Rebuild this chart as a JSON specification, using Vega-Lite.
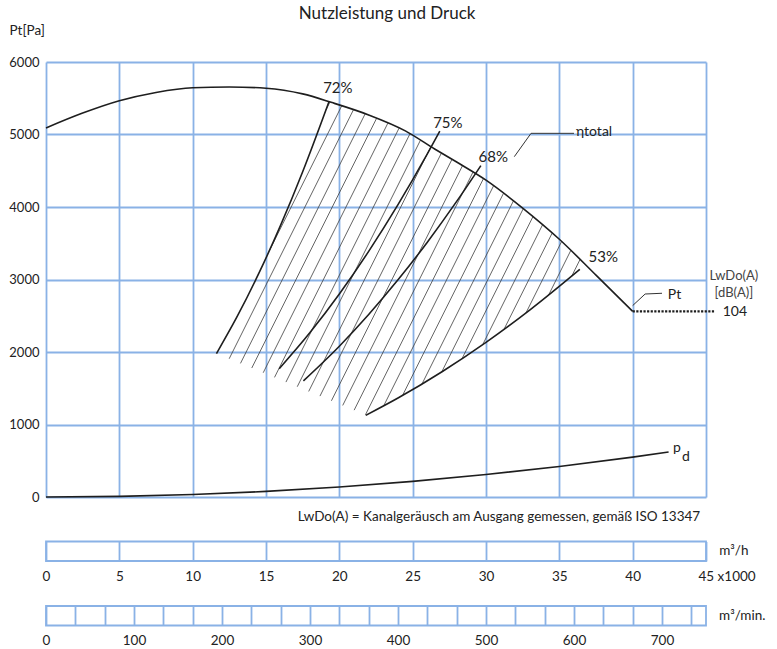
{
  "$schema": "https://vega.github.io/schema/vega-lite/v6.json",
  "background": "white",
  "padding": {"left": 8, "top": 5, "right": 5, "bottom": 5},
  "bounds": "flush",
  "spacing": 44.5,
  "title": {"text": "Nutzleistung und Druck", "fontSize": 17, "fontWeight": "normal", "font": "Lato", "color": "#222", "anchor": "middle", "offset": 0},
  "config": {
    "font": "Lato",
    "view": {"stroke": null},
    "axis": {"gridColor": "#8ab2e6", "gridWidth": 1.8, "gridOpacity": 1, "labelFont": "Lato", "labelColor": "#222", "labelFontSize": 13, "ticks": false, "domain": false, "titleFont": "Lato", "titleColor": "#222", "titleFontWeight": "normal"},
    "text": {"font": "Lato", "color": "#222"}
  },
  "datasets": {
    "hatch": [
      {"j": -2, "Q1": 19.09, "p1": 5339, "Q2": 19.36, "p2": 5448},
      {"j": -1, "Q1": 15.22, "p1": 3394, "Q2": 20.16, "p2": 5395},
      {"j": 0, "Q1": 12.49, "p1": 1907, "Q2": 20.96, "p2": 5340},
      {"j": 1, "Q1": 13.26, "p1": 1843, "Q2": 21.76, "p2": 5285},
      {"j": 2, "Q1": 14.03, "p1": 1779, "Q2": 22.54, "p2": 5223},
      {"j": 3, "Q1": 14.81, "p1": 1714, "Q2": 23.31, "p2": 5157},
      {"j": 4, "Q1": 15.58, "p1": 1650, "Q2": 24.07, "p2": 5087},
      {"j": 5, "Q1": 16.36, "p1": 1585, "Q2": 24.82, "p2": 5011},
      {"j": 6, "Q1": 17.13, "p1": 1521, "Q2": 25.53, "p2": 4921},
      {"j": 7, "Q1": 17.91, "p1": 1456, "Q2": 26.24, "p2": 4831},
      {"j": 8, "Q1": 18.68, "p1": 1392, "Q2": 26.96, "p2": 4744},
      {"j": 9, "Q1": 19.46, "p1": 1327, "Q2": 27.68, "p2": 4657},
      {"j": 10, "Q1": 20.23, "p1": 1263, "Q2": 28.40, "p2": 4571},
      {"j": 11, "Q1": 21.01, "p1": 1198, "Q2": 29.11, "p2": 4480},
      {"j": 12, "Q1": 21.78, "p1": 1134, "Q2": 29.83, "p2": 4393},
      {"j": 13, "Q1": 23.02, "p1": 1256, "Q2": 30.51, "p2": 4290},
      {"j": 14, "Q1": 24.31, "p1": 1401, "Q2": 31.19, "p2": 4188},
      {"j": 15, "Q1": 25.63, "p1": 1557, "Q2": 31.87, "p2": 4084},
      {"j": 16, "Q1": 26.98, "p1": 1725, "Q2": 32.54, "p2": 3977},
      {"j": 17, "Q1": 28.36, "p1": 1906, "Q2": 33.20, "p2": 3866},
      {"j": 18, "Q1": 29.77, "p1": 2100, "Q2": 33.85, "p2": 3752},
      {"j": 19, "Q1": 31.22, "p1": 2310, "Q2": 34.51, "p2": 3640},
      {"j": 20, "Q1": 32.72, "p1": 2537, "Q2": 35.16, "p2": 3526},
      {"j": 21, "Q1": 34.26, "p1": 2782, "Q2": 35.78, "p2": 3400},
      {"j": 22, "Q1": 35.84, "p1": 3044, "Q2": 36.41, "p2": 3275}
    ],
    "curves": [
      {"s": "pt", "Q": 0, "p": 5090}, {"s": "pt", "Q": 2.5, "p": 5295}, {"s": "pt", "Q": 5, "p": 5465},
      {"s": "pt", "Q": 7.5, "p": 5580}, {"s": "pt", "Q": 10, "p": 5645}, {"s": "pt", "Q": 12.5, "p": 5655},
      {"s": "pt", "Q": 15, "p": 5638}, {"s": "pt", "Q": 17.5, "p": 5560}, {"s": "pt", "Q": 19.5, "p": 5440},
      {"s": "pt", "Q": 22, "p": 5270}, {"s": "pt", "Q": 24.5, "p": 5050}, {"s": "pt", "Q": 26.5, "p": 4800},
      {"s": "pt", "Q": 28, "p": 4620}, {"s": "pt", "Q": 30, "p": 4370}, {"s": "pt", "Q": 32.5, "p": 3985},
      {"s": "pt", "Q": 35, "p": 3555}, {"s": "pt", "Q": 37.5, "p": 3060}, {"s": "pt", "Q": 40, "p": 2560},
      {"s": "pd", "Q": 0, "p": 0}, {"s": "pd", "Q": 5, "p": 9}, {"s": "pd", "Q": 10, "p": 34},
      {"s": "pd", "Q": 15, "p": 77}, {"s": "pd", "Q": 20, "p": 138}, {"s": "pd", "Q": 25, "p": 215},
      {"s": "pd", "Q": 30, "p": 310}, {"s": "pd", "Q": 35, "p": 421}, {"s": "pd", "Q": 40, "p": 550},
      {"s": "pd", "Q": 42.45, "p": 620},
      {"s": "e72", "Q": 11.62, "p": 1978}, {"s": "e72", "Q": 13, "p": 2476}, {"s": "e72", "Q": 14.5, "p": 3080},
      {"s": "e72", "Q": 16, "p": 3750}, {"s": "e72", "Q": 17.5, "p": 4487}, {"s": "e72", "Q": 19.3, "p": 5457},
      {"s": "e75", "Q": 15.9, "p": 1770}, {"s": "e75", "Q": 18, "p": 2268}, {"s": "e75", "Q": 20, "p": 2800},
      {"s": "e75", "Q": 22, "p": 3388}, {"s": "e75", "Q": 24, "p": 4032}, {"s": "e75", "Q": 26, "p": 4732},
      {"s": "e75", "Q": 26.85, "p": 5046},
      {"s": "e68", "Q": 17.55, "p": 1602}, {"s": "e68", "Q": 20, "p": 2080}, {"s": "e68", "Q": 22, "p": 2517},
      {"s": "e68", "Q": 24, "p": 2995}, {"s": "e68", "Q": 26, "p": 3515}, {"s": "e68", "Q": 28, "p": 4077},
      {"s": "e68", "Q": 29.65, "p": 4571},
      {"s": "e53", "Q": 21.8, "p": 1126}, {"s": "e53", "Q": 24, "p": 1365}, {"s": "e53", "Q": 27, "p": 1728},
      {"s": "e53", "Q": 30, "p": 2133}, {"s": "e53", "Q": 33, "p": 2581}, {"s": "e53", "Q": 36.4, "p": 3140}
    ],
    "noise": [{"Q": 40, "p": 2560}, {"Q": 45.55, "p": 2560}],
    "leaders": [
      {"s": "pt", "Q": 40.0, "p": 2640}, {"s": "pt", "Q": 40.85, "p": 2800}, {"s": "pt", "Q": 42.0, "p": 2810},
      {"s": "eta", "Q": 31.93, "p": 4694}, {"s": "eta", "Q": 33.07, "p": 5016}, {"s": "eta", "Q": 36.0, "p": 5016}
    ],
    "pctLabels": [
      {"t": "72%", "Q": 19.9, "p": 5641},
      {"t": "75%", "Q": 27.4, "p": 5165},
      {"t": "68%", "Q": 30.5, "p": 4690},
      {"t": "53%", "Q": 38.0, "p": 3314}
    ],
    "sideLabels": [
      {"t": "LwDo(A)", "Q": 46.9, "p": 3048},
      {"t": "[dB(A)]", "Q": 46.9, "p": 2810}
    ],
    "leftLabels": [
      {"t": "ηtotal", "Q": 36.13, "p": 5035},
      {"t": "Pt", "Q": 42.39, "p": 2786},
      {"t": "104", "Q": 46.14, "p": 2556},
      {"t": "p", "Q": 42.75, "p": 676},
      {"t": "d", "Q": 43.36, "p": 552}
    ],
    "footnote": [
      {"t": "LwDo(A) = Kanalgeräusch am Ausgang gemessen, gemäß ISO 13347", "Q": 44.6, "p": -276}
    ],
    "flowH": [{"a": 0, "b": 45}],
    "flowMin": [{"a": 0, "b": 750}]
  },
  "vconcat": [
    {
      "width": 660,
      "height": 435,
      "layer": [
        {
          "data": {"name": "hatch"},
          "mark": {"type": "rule", "color": "#3c3c3c", "strokeWidth": 0.8},
          "encoding": {
            "x": {"field": "Q1", "type": "quantitative", "scale": {"domain": [0, 45], "nice": false, "zero": false},
                  "axis": {"values": [0, 5, 10, 15, 20, 25, 30, 35, 40, 45], "tickCount": 50, "grid": true, "labels": false, "title": null}},
            "y": {"field": "p1", "type": "quantitative", "scale": {"domain": [0, 6000], "nice": false},
                  "axis": {"values": [0, 1000, 2000, 3000, 4000, 5000, 6000], "tickCount": 50, "grid": true, "labelPadding": 7, "labelFontSize": 13, "format": "d",
                           "title": "Pt[Pa]", "titleAngle": 0, "titleAlign": "left", "titleBaseline": "middle", "titleX": -37, "titleY": -32, "titleFontSize": 13.5}},
            "x2": {"field": "Q2"},
            "y2": {"field": "p2"}
          }
        },
        {
          "data": {"name": "curves"},
          "mark": {"type": "line", "color": "#1e1e1e", "strokeWidth": 1.6, "interpolate": "monotone"},
          "encoding": {
            "x": {"field": "Q", "type": "quantitative"},
            "y": {"field": "p", "type": "quantitative"},
            "detail": {"field": "s"}
          }
        },
        {
          "data": {"name": "noise"},
          "mark": {"type": "line", "color": "#1e1e1e", "strokeWidth": 2.4, "strokeDash": [2.2, 1.4]},
          "encoding": {
            "x": {"field": "Q", "type": "quantitative"},
            "y": {"field": "p", "type": "quantitative"}
          }
        },
        {
          "data": {"name": "leaders"},
          "mark": {"type": "line", "color": "#333", "strokeWidth": 1},
          "encoding": {
            "x": {"field": "Q", "type": "quantitative"},
            "y": {"field": "p", "type": "quantitative"},
            "detail": {"field": "s"}
          }
        },
        {
          "data": {"name": "pctLabels"},
          "mark": {"type": "text", "fontSize": 15, "align": "center", "baseline": "middle"},
          "encoding": {
            "x": {"field": "Q", "type": "quantitative"},
            "y": {"field": "p", "type": "quantitative"},
            "text": {"field": "t"}
          }
        },
        {
          "data": {"name": "sideLabels"},
          "mark": {"type": "text", "fontSize": 13, "align": "center", "baseline": "middle", "color": "#444"},
          "encoding": {
            "x": {"field": "Q", "type": "quantitative"},
            "y": {"field": "p", "type": "quantitative"},
            "text": {"field": "t"}
          }
        },
        {
          "data": {"name": "leftLabels"},
          "mark": {"type": "text", "fontSize": 14, "align": "left", "baseline": "middle"},
          "encoding": {
            "x": {"field": "Q", "type": "quantitative"},
            "y": {"field": "p", "type": "quantitative"},
            "text": {"field": "t"}
          }
        },
        {
          "data": {"name": "footnote"},
          "mark": {"type": "text", "fontSize": 13.5, "align": "right", "baseline": "middle"},
          "encoding": {
            "x": {"field": "Q", "type": "quantitative"},
            "y": {"field": "p", "type": "quantitative"},
            "text": {"field": "t"}
          }
        }
      ]
    },
    {
      "width": 660,
      "height": 19.5,
      "layer": [
        {
          "data": {"name": "flowH"},
          "mark": {"type": "rect", "fillOpacity": 0, "stroke": "#8ab2e6", "strokeWidth": 1.8},
          "encoding": {
            "x": {"field": "a", "type": "quantitative", "scale": {"domain": [0, 45], "nice": false, "zero": false},
                  "axis": {"values": [0, 5, 10, 15, 20, 25, 30, 35, 40, 45], "tickCount": 50, "grid": true, "title": null, "labelPadding": 8,
                           "labelFontSize": 13.5, "labelFlush": false, "labelOverlap": false,
                           "labelExpr": "datum.value == 45 ? '45 x1000' : datum.label",
                           "labelAlign": {"condition": {"test": "datum.value == 45", "value": "left"}, "value": "center"},
                           "labelOffset": {"condition": {"test": "datum.value == 45", "value": -8}, "value": 0}}},
            "x2": {"field": "b"}
          }
        },
        {
          "data": {"name": "flowH"},
          "mark": {"type": "text", "text": "m³/h", "fontSize": 13.5, "align": "left", "baseline": "middle"},
          "encoding": {
            "x": {"datum": 45.9, "type": "quantitative"}
          }
        }
      ]
    },
    {
      "width": 660,
      "height": 19.5,
      "layer": [
        {
          "data": {"name": "flowMin"},
          "mark": {"type": "rect", "fillOpacity": 0, "stroke": "#8ab2e6", "strokeWidth": 1.8},
          "encoding": {
            "x": {"field": "a", "type": "quantitative", "scale": {"domain": [0, 750], "nice": false, "zero": false},
                  "axis": {"values": [0, 33.333, 66.667, 100, 133.333, 166.667, 200, 233.333, 266.667, 300, 333.333, 366.667, 400, 433.333, 466.667, 500, 533.333, 566.667, 600, 633.333, 666.667, 700, 733.333],
                           "tickCount": 100, "grid": true, "title": null, "labelPadding": 8, "labelFontSize": 13.5, "labelFlush": false, "labelOverlap": false,
                           "labelExpr": "abs(datum.value % 100) < 0.01 ? format(datum.value, 'd') : ''"}},
            "x2": {"field": "b"}
          }
        },
        {
          "data": {"name": "flowMin"},
          "mark": {"type": "text", "text": "m³/min.", "fontSize": 13.5, "align": "left", "baseline": "middle"},
          "encoding": {
            "x": {"datum": 764.8, "type": "quantitative"}
          }
        }
      ]
    }
  ]
}
